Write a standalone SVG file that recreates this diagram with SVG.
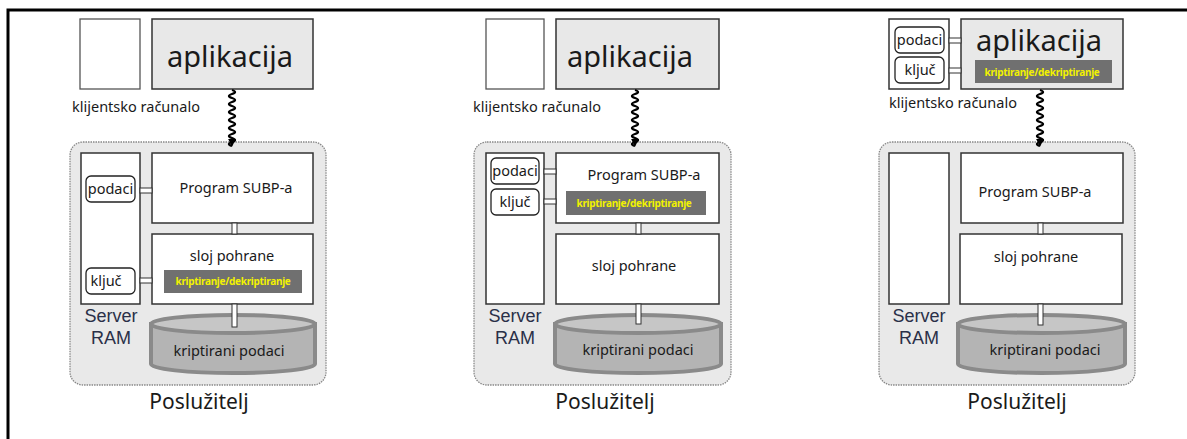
<svg xmlns="http://www.w3.org/2000/svg" width="1187" height="439" viewBox="0 0 1187 439">
<style>
.t{font-family:"Noto Sans","Open Sans",sans-serif;fill:#1a1a1a}
.app{font-size:29px;text-anchor:middle}
.lbl{font-size:14.5px}
.mid{font-size:14.5px;text-anchor:middle}
.ram{font-family:"Liberation Sans",Arial,sans-serif;font-size:18px;fill:#2a3048;text-anchor:middle}
.pos{font-size:21px;text-anchor:middle}
.kd{font-family:"Noto Sans",sans-serif;font-size:10px;fill:#f2f200;text-anchor:middle;font-weight:bold;letter-spacing:-0.3px}
.box{fill:#fff;stroke:#333;stroke-width:1.5}
.gbox{fill:#e8e8e8;stroke:#333;stroke-width:1.5}
.wbox{fill:#fff;stroke:#555;stroke-width:1.3}
.cont{fill:#e9e9e9;stroke:#888;stroke-width:1.3;stroke-dasharray:1.5 1}
.pill{fill:#fff;stroke:#222;stroke-width:1.3}
.bar{fill:#707070}
.link{fill:#fff;stroke:#333;stroke-width:1}
.wave{fill:none;stroke:#000;stroke-width:2.3}
.cylb{fill:#b4b4b4;stroke:#8a8a8a;stroke-width:4}
.cylt{fill:#c6c6c6;stroke:#8a8a8a;stroke-width:4}
.frame{fill:none;stroke:#000;stroke-width:3}
</style>
<defs>
<marker id="ah" viewBox="0 0 10 10" refX="5" refY="9" markerWidth="8" markerHeight="8" markerUnits="userSpaceOnUse" orient="auto-start-reverse">
<path d="M0,0 L10,0 L5,10 Z" fill="#000"/>
</marker>
<path id="wv" class="wave" d="M0,90 q6,2 0,4 q-6,2 0,4 q6,2 0,4 q-6,2 0,4 q6,2 0,4 q-6,2 0,4 q6,2 0,4 q-6,2 0,4 q6,2 0,4 q-6,2 0,4 q6,2 0,4 q-6,2 0,4 q6,2 0,4 q-6,2 0,4 L0,146" marker-end="url(#ah)"/>
</defs>

<path class="frame" d="M8,439 L8,10 L1187,10"/>

<!-- Panel 1 -->
<g id="p1-server">
<rect class="cont" x="70" y="142" width="256" height="243" rx="13"/>
<text class="pos t" x="199" y="409">Poslužitelj</text>
</g>
<g id="p1-client">
<rect class="wbox" x="80" y="19" width="60" height="70"/>
<text class="t lbl" x="72" y="112">klijentsko računalo</text>
</g>
<g id="p1-app">
<rect class="gbox" x="152" y="19" width="161" height="70"/>
<text class="t app" x="230" y="67">aplikacija</text>
</g>
<g id="p1-ram">
<rect class="box" x="81" y="153" width="59" height="151"/>
<text class="ram" x="111" y="322">Server</text>
<text class="ram" x="111" y="344">RAM</text>
</g>
<g id="p1-podaci">
<rect class="pill" x="86" y="176" width="49" height="26" rx="5"/>
<text class="t mid" x="110.5" y="194">podaci</text>
</g>
<g id="p1-kljuc">
<rect class="pill" x="86" y="268" width="49" height="26" rx="5"/>
<text class="t mid" x="106" y="286">ključ</text>
</g>
<g id="p1-program">
<rect class="box" x="152" y="153" width="161" height="70"/>
<text class="t mid" x="236" y="193">Program SUBP-a</text>
</g>
<g id="p1-sloj">
<rect class="box" x="152" y="234" width="161" height="70"/>
<text class="t mid" x="232" y="261">sloj pohrane</text>
<rect class="bar" x="164" y="270" width="138" height="23"/>
<text class="kd" x="233" y="285">kriptiranje/dekriptiranje</text>
</g>
<g id="p1-db">
<path class="cylb" d="M151,324 L151,364 A82,9 0 0 0 315,364 L315,324 Z"/>
<ellipse class="cylt" cx="233" cy="324" rx="82" ry="9"/>
<text class="t mid" x="229" y="356">kriptirani podaci</text>
</g>

<!-- Panel 2 -->
<g id="p2-server">
<rect class="cont" x="474" y="142" width="257" height="243" rx="13"/>
<text class="pos t" x="605" y="409">Poslužitelj</text>
</g>
<g id="p2-client">
<rect class="wbox" x="486" y="19" width="58" height="70"/>
<text class="t lbl" x="473" y="112">klijentsko računalo</text>
</g>
<g id="p2-app">
<rect class="gbox" x="556" y="19" width="163" height="70"/>
<text class="t app" x="630" y="67">aplikacija</text>
</g>
<g id="p2-ram">
<rect class="box" x="486" y="153" width="58" height="151"/>
<text class="ram" x="515" y="322">Server</text>
<text class="ram" x="515" y="344">RAM</text>
</g>
<g id="p2-podaci">
<rect class="pill" x="491" y="158" width="48" height="26" rx="5"/>
<text class="t mid" x="515" y="176">podaci</text>
</g>
<g id="p2-kljuc">
<rect class="pill" x="491" y="189" width="48" height="26" rx="5"/>
<text class="t mid" x="515" y="207">ključ</text>
</g>
<g id="p2-program">
<rect class="box" x="556" y="153" width="163" height="70"/>
<text class="t mid" x="644" y="180">Program SUBP-a</text>
<rect class="bar" x="566" y="191" width="140" height="24"/>
<text class="kd" x="634" y="207">kriptiranje/dekriptiranje</text>
</g>
<g id="p2-sloj">
<rect class="box" x="556" y="234" width="163" height="70"/>
<text class="t mid" x="634" y="271">sloj pohrane</text>
</g>
<g id="p2-db">
<path class="cylb" d="M555,324 L555,364 A83,9 0 0 0 721,364 L721,324 Z"/>
<ellipse class="cylt" cx="638" cy="324" rx="83" ry="9"/>
<text class="t mid" x="638" y="355">kriptirani podaci</text>
</g>

<!-- Panel 3 -->
<g id="p3-server">
<rect class="cont" x="879" y="142" width="256" height="243" rx="13"/>
<text class="pos t" x="1017" y="409">Poslužitelj</text>
</g>
<g id="p3-client">
<rect class="box" x="889" y="19" width="60" height="70"/>
<text class="t lbl" x="889" y="108">klijentsko računalo</text>
</g>
<g id="p3-podaci">
<rect class="pill" x="895" y="27" width="49" height="26" rx="5"/>
<text class="t mid" x="919.5" y="45">podaci</text>
</g>
<g id="p3-kljuc">
<rect class="pill" x="895" y="57" width="49" height="26" rx="5"/>
<text class="t mid" x="920" y="75">ključ</text>
</g>
<g id="p3-app">
<rect class="gbox" x="961" y="19" width="162" height="70"/>
<text class="t app" x="1039" y="51">aplikacija</text>
<rect class="bar" x="975" y="60" width="137" height="23"/>
<text class="kd" x="1042" y="76">kriptiranje/dekriptiranje</text>
</g>
<g id="p3-ram">
<rect class="box" x="889" y="153" width="60" height="151"/>
<text class="ram" x="919" y="322">Server</text>
<text class="ram" x="919" y="344">RAM</text>
</g>
<g id="p3-program">
<rect class="box" x="961" y="153" width="162" height="70"/>
<text class="t mid" x="1035" y="197">Program SUBP-a</text>
</g>
<g id="p3-sloj">
<rect class="box" x="960" y="234" width="162" height="70"/>
<text class="t mid" x="1036" y="262">sloj pohrane</text>
</g>
<g id="p3-db">
<path class="cylb" d="M958,324 L958,364 A83.5,9 0 0 0 1125,364 L1125,324 Z"/>
<ellipse class="cylt" cx="1041.5" cy="324" rx="83.5" ry="9"/>
<text class="t mid" x="1045" y="355">kriptirani podaci</text>
</g>

<g id="connectors">
<!-- panel 1 -->
<use href="#wv" x="232" y="0"/>
<rect class="link" x="140" y="188" width="12" height="5"/>
<rect class="link" x="140" y="278" width="12" height="5"/>
<rect class="link" x="232" y="223" width="5" height="11"/>
<rect class="link" x="232" y="304" width="5" height="23"/>
<!-- panel 2 -->
<use href="#wv" x="635" y="0"/>
<rect class="link" x="544" y="169" width="12" height="5"/>
<rect class="link" x="544" y="199" width="12" height="5"/>
<rect class="link" x="636" y="223" width="5" height="11"/>
<rect class="link" x="636" y="304" width="5" height="20"/>
<!-- panel 3 -->
<use href="#wv" x="1040" y="0"/>
<rect class="link" x="949" y="38" width="12" height="5"/>
<rect class="link" x="949" y="68" width="12" height="5"/>
<rect class="link" x="1038" y="223" width="5" height="11"/>
<rect class="link" x="1038" y="304" width="5" height="21"/>
</g>
</svg>
